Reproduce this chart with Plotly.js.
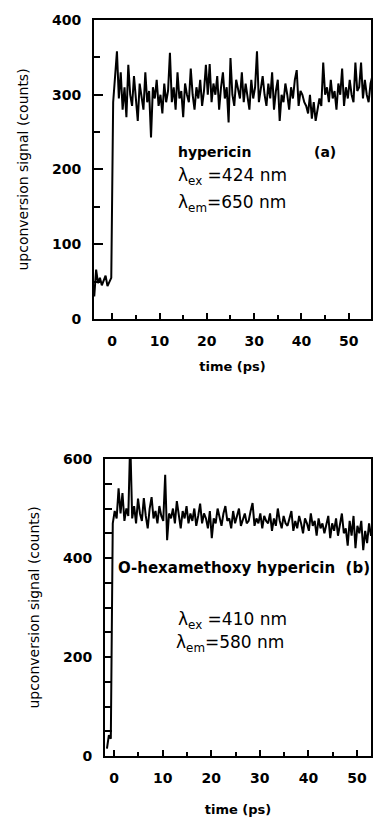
<!DOCTYPE html>
<html><head><meta charset="utf-8">
<script src="https://cdn.plot.ly/plotly-3.0.1.min.js"></script>
<style>html,body{margin:0;padding:0;background:#fff}#chart{width:373px;height:819px}</style>
</head><body><div id="chart"></div>
<script>
// Panel (a): hypericin, sampled every 0.4 ps starting at -3.8 ps
const timeStartA = -3.8, timeStepA = 0.4;
const signalA = [
  30, 66, 48, 55, 45, 52, 58, 44, 50, 55,
  290, 320, 358, 295, 330, 280, 310, 270, 340, 300,
  285, 325, 295, 265, 315, 300, 280, 330, 290, 305,
  243, 310, 295, 320, 285, 300, 275, 315, 290, 305,
  356, 290, 310, 280, 330, 295, 305, 270, 315, 300,
  290, 335, 300, 280, 310, 295, 320, 285, 305, 340,
  300, 341, 290, 315, 300, 325, 280, 310, 330, 295,
  310, 263, 349, 300, 285, 320, 305, 295, 330, 290,
  315, 300, 280, 320, 295, 310, 358, 290, 305, 325,
  300, 285, 315, 295, 330, 280, 305, 320, 265, 300,
  290, 315, 300, 280, 310, 295, 320, 333, 285, 305,
  300, 290, 285, 275, 300, 268, 290, 265, 280, 295,
  285, 343, 300, 310, 290, 320, 295, 305, 280, 315,
  300, 335, 285, 310, 295, 320, 300, 290, 343, 305,
  310, 343, 295, 320, 300, 290, 315, 325
];
// Panel (b): O-hexamethoxy hypericin, sampled every 0.4 ps starting at -1.5 ps
const timeStartB = -1.5, timeStepB = 0.4;
const signalB = [
  15, 42, 35,
  470, 495, 480, 541, 490, 531, 475, 500, 485, 640,
  480, 505, 470, 520, 490, 475, 521, 485, 460, 500,
  523, 480, 495, 470, 505, 485, 475, 568, 436, 490,
  480, 500, 470, 515, 485, 460, 495, 480, 505, 470,
  490, 475, 500, 465, 485, 510, 470, 490, 480, 460,
  495, 440, 480, 470, 500, 485, 465, 490, 505, 475,
  480, 460, 495, 470, 485, 500, 465, 480, 490, 470,
  475, 495, 511, 465, 480, 470, 490, 460, 485, 475,
  470, 490, 455, 480, 465, 500, 475, 460, 485, 470,
  465, 480, 495, 455, 475, 460, 485, 470, 450, 480,
  470, 455, 490, 465, 475, 445, 480, 460, 470, 450,
  465, 485, 440, 470, 455, 480, 445, 465, 490, 450,
  460, 425, 475, 445, 485, 420, 465, 450, 475, 416,
  455, 430, 470, 445, 462
];
const xTickVals = [0, 10, 20, 30, 40, 50];
const yTickValsA = [0, 100, 200, 300, 400];
const yTickValsB = [0, 200, 400, 600];
const xTitle = 'time (ps)';
const yTitle = 'upconversion signal (counts)';

const tickFont = {family: 'DejaVu Sans', size: 14, color: '#000', weight: 'bold'};
const xTitleFont = {family: 'DejaVu Sans', size: 13, color: '#000', weight: 'bold'};
const yTitleFont = {family: 'DejaVu Sans', size: 14, color: '#000'};

function xAxis(domain, range, anchor, standoff) {
  return {
    domain: domain, range: range, anchor: anchor,
    tickmode: 'array', tickvals: xTickVals,
    ticks: 'inside', ticklen: 6, tickwidth: 2, tickcolor: '#000',
    minor: {dtick: 5, ticks: 'inside', ticklen: 4, tickwidth: 2, tickcolor: '#000'},
    showline: true, linewidth: 2, linecolor: '#000', mirror: true,
    showgrid: false, zeroline: false,
    tickfont: tickFont, ticklabelstandoff: 8,
    title: {text: xTitle, font: xTitleFont, standoff: standoff}
  };
}
function yAxis(domain, range, anchor, tickvals, minorStep, len, minorLen) {
  return {
    domain: domain, range: range, anchor: anchor,
    tickmode: 'array', tickvals: tickvals,
    ticks: 'inside', ticklen: len, tickwidth: 2, tickcolor: '#000',
    minor: {dtick: minorStep, ticks: 'inside', ticklen: minorLen, tickwidth: 2, tickcolor: '#000'},
    showline: true, linewidth: 2, linecolor: '#000', mirror: true,
    showgrid: false, zeroline: false,
    tickfont: tickFont, ticklabelstandoff: 8,
    title: {text: yTitle, font: yTitleFont, standoff: 20}
  };
}

const traces = [
  {type: 'scatter', mode: 'lines', x0: timeStartA, dx: timeStepA, y: signalA,
   xaxis: 'x', yaxis: 'y', line: {color: '#000', width: 2}, hoverinfo: 'skip'},
  {type: 'scatter', mode: 'lines', x0: timeStartB, dx: timeStepB, y: signalB,
   xaxis: 'x2', yaxis: 'y2', line: {color: '#000', width: 2}, hoverinfo: 'skip'}
];

const annFont = {family: 'DejaVu Sans', size: 17, color: '#000'};
const layout = {
  width: 373, height: 819,
  margin: {l: 94, r: 2, t: 20, b: 63},
  paper_bgcolor: '#fff', plot_bgcolor: '#fff',
  showlegend: false,
  xaxis: xAxis([0, 1], [-3.85, 54.7], 'y', 14),
  yaxis: yAxis([0.5938, 1], [0, 400], 'x', yTickValsA, 50, 9, 6),
  xaxis2: xAxis([0.0397, 1], [-1.9, 52.9], 'y2', 20),
  yaxis2: yAxis([0, 0.4035], [0, 600], 'x2', yTickValsB, 50, 7, 7),
  annotations: [
    {xref: 'x', yref: 'y', x: 13.5, y: 223, xanchor: 'left', yanchor: 'middle', showarrow: false,
     text: 'hypericin', font: {family: 'DejaVu Sans', size: 14, color: '#000', weight: 'bold'}},
    {xref: 'x', yref: 'y', x: 45, y: 223, xanchor: 'center', yanchor: 'middle', showarrow: false,
     text: '(a)', font: {family: 'DejaVu Sans', size: 14, color: '#000', weight: 'bold'}},
    {xref: 'x', yref: 'y', x: 13.5, y: 190, xanchor: 'left', yanchor: 'middle', showarrow: false,
     text: 'λ<sub>ex</sub> =424 nm', font: annFont},
    {xref: 'x', yref: 'y', x: 13.5, y: 155, xanchor: 'left', yanchor: 'middle', showarrow: false,
     text: 'λ<sub>em</sub>=650 nm', font: annFont},
    {xref: 'x2', yref: 'y2', x: 0.4, y: 380, xanchor: 'left', yanchor: 'middle', showarrow: false,
     text: 'O-hexamethoxy hypericin  (b)', font: {family: 'DejaVu Sans', size: 15, color: '#000', weight: 'bold'}},
    {xref: 'x2', yref: 'y2', x: 12.8, y: 274, xanchor: 'left', yanchor: 'middle', showarrow: false,
     text: 'λ<sub>ex</sub> =410 nm', font: annFont},
    {xref: 'x2', yref: 'y2', x: 12.4, y: 227, xanchor: 'left', yanchor: 'middle', showarrow: false,
     text: 'λ<sub>em</sub>=580 nm', font: annFont}
  ]
};

Plotly.newPlot('chart', traces, layout, {displayModeBar: false, staticPlot: true});
</script>
</body></html>
